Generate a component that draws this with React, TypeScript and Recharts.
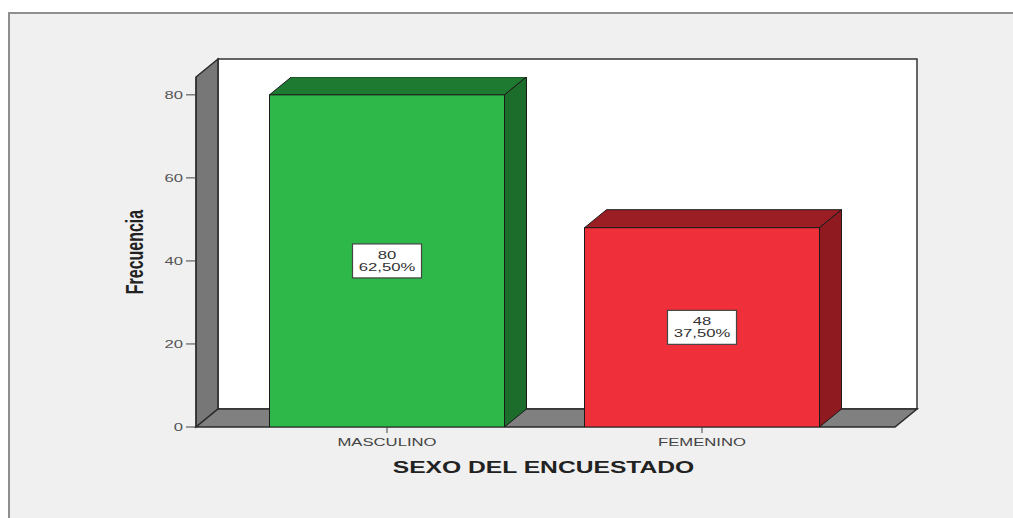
import React from 'react';
import {
    BarChart, Bar, XAxis, YAxis, ReferenceArea, LabelList, Cell
} from 'recharts';

// SPSS-style 3D frequency chart
const categories = ['MASCULINO', 'FEMENINO'];
const frequencies = [80, 48];
const percentages = ['62,50%', '37,50%'];
const yTicks = [0, 20, 40, 60, 80];

const frontColors = ['#2eb84a', '#ef2f3a'];
const topColors = ['#1f7a31', '#9c1e25'];
const sideColors = ['#1c6d2c', '#8f1b21'];

const data = categories.map((c, i) => ({ name: c, value: frequencies[i], pct: percentages[i] }));

const W = 1013;
const H = 518;
const DX = 22;
const DY = 18;
const Y_MAX = 84.3;
const STRETCH = 1.45;
const FONT = '"Liberation Sans", Arial, sans-serif';

const Bar3D = (props: any) => {
    const { x, y, width, height, index } = props;
    const front = frontColors[index];
    const top = `${x},${y} ${x + DX},${y - DY} ${x + width + DX},${y - DY} ${x + width},${y}`;
    const side = `${x + width},${y} ${x + width + DX},${y - DY} ${x + width + DX},${y + height - DY} ${x + width},${y + height}`;
    return (
        <g>
            <polygon points={top} fill={topColors[index]} stroke="#1a1a1a" strokeWidth={1} />
            <polygon points={side} fill={sideColors[index]} stroke="#1a1a1a" strokeWidth={1} />
            <rect x={x} y={y} width={width} height={height} fill={front} stroke="#1a1a1a" strokeWidth={1} />
        </g>
    );
};

const Walls = (props: any) => {
    const { x, y, width, height } = props;
    const leftWall = `${x},${y} ${x + DX},${y - DY} ${x + DX},${y + height - DY} ${x},${y + height}`;
    const floor = `${x},${y + height} ${x + DX},${y + height - DY} ${x + width + DX},${y + height - DY} ${x + width},${y + height}`;
    return (
        <g>
            <rect x={x + DX} y={y - DY} width={width} height={height} fill="#ffffff" stroke="#333" strokeWidth={1.5} />
            <polygon points={leftWall} fill="#777777" stroke="#2a2a2a" strokeWidth={1.5} />
            <polygon points={floor} fill="#808080" stroke="#2a2a2a" strokeWidth={1.5} />
        </g>
    );
};

const ValueBox = (props: any) => {
    const { x, y, width, height, index } = props;
    const cx = x + width / 2;
    const cy = y + height / 2;
    const bw = 69;
    const bh = 34;
    return (
        <g>
            <rect x={cx - bw / 2} y={cy - bh / 2} width={bw} height={bh} fill="#ffffff" stroke="#444" strokeWidth={1.2} />
            <text transform={`translate(${cx},${cy - 2}) scale(${STRETCH},1)`} textAnchor="middle"
                fontSize={11.5} fontFamily={FONT} fill="#333">{frequencies[index]}</text>
            <text transform={`translate(${cx},${cy + 10}) scale(${STRETCH},1)`} textAnchor="middle"
                fontSize={11.5} fontFamily={FONT} fill="#333">{percentages[index]}</text>
        </g>
    );
};

const YTick = ({ x, y, payload }: any) => (
    <text transform={`translate(${x},${y + 4}) scale(${STRETCH},1)`} textAnchor="end"
        fontSize={11.5} fontFamily={FONT} fill="#555">{payload.value}</text>
);

const XTick = ({ x, y, payload }: any) => (
    <text transform={`translate(${x},${y + 11}) scale(${STRETCH},1)`} textAnchor="middle"
        fontSize={11.5} fontFamily={FONT} fill="#444">{payload.value}</text>
);

const XTitle = ({ viewBox }: any) => (
    <text transform={`translate(${viewBox.x + viewBox.width / 2 - 2},${viewBox.y + 46}) scale(${STRETCH},1)`}
        textAnchor="middle" fontSize={17} fontWeight="bold" fontFamily={FONT} fill="#222">
        SEXO DEL ENCUESTADO
    </text>
);

const YTitle = ({ viewBox }: any) => (
    <text transform={`translate(${viewBox.x + 7},${viewBox.y + viewBox.height / 2}) rotate(-90) scale(1,${STRETCH})`}
        textAnchor="middle" fontSize={16} fontWeight="bold" fontFamily={FONT} fill="#222">
        Frecuencia
    </text>
);

export default function App() {
    return (
        <div style={{ position: 'absolute', left: 0, top: 0, width: W, height: H, background: '#ffffff' }}>
            <div style={{
                position: 'absolute', left: 8, top: 12, width: W - 10, height: H - 14,
                background: '#f0f0f0', borderTop: '2px solid #8f8f8f', borderLeft: '2px solid #8f8f8f'
            }} />
            <div style={{ position: 'absolute', left: 0, top: 0 }}>
                <BarChart width={W} height={H} data={data} barSize={235}
                    margin={{ top: 77, right: 118, left: 136, bottom: 61 }}>
                    <XAxis dataKey="name" height={30} padding={{ left: 33.5, right: 35.5 }}
                        axisLine={false} tickSize={6} tickLine={{ stroke: '#444' }}
                        tick={<XTick />} interval={0} label={{ content: <XTitle /> } as any} />
                    <XAxis xAxisId="wall" type="number" domain={[0, 1]} hide allowDataOverflow />
                    <YAxis width={60} domain={[0, Y_MAX]} ticks={yTicks} allowDataOverflow
                        axisLine={{ stroke: '#2a2a2a' }} tickSize={10} tickMargin={3}
                        tickLine={{ stroke: '#444' }} tick={<YTick />}
                        label={{ content: <YTitle /> } as any} />
                    <ReferenceArea xAxisId="wall" x1={0} x2={1} y1={0} y2={Y_MAX}
                        ifOverflow="visible" shape={<Walls />} />
                    <Bar dataKey="value" shape={<Bar3D />} isAnimationActive={false}>
                        {data.map((d, i) => <Cell key={d.name} fill={frontColors[i]} />)}
                        <LabelList dataKey="value" content={<ValueBox />} />
                    </Bar>
                </BarChart>
            </div>
        </div>
    );
}
